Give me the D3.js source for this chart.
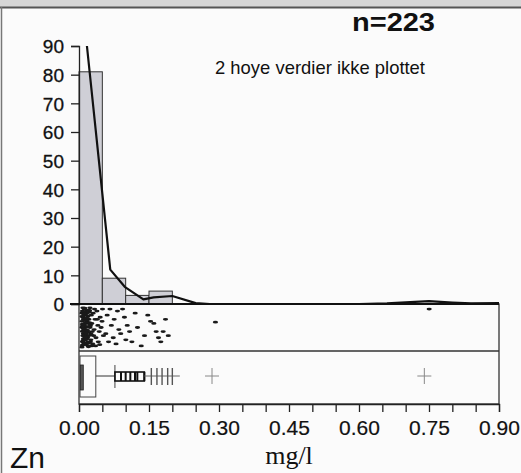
<!DOCTYPE html>
<html>
<head>
<meta charset="utf-8">
<script src="https://cdn.jsdelivr.net/npm/d3@7"></script>
<style>
  body { margin: 0; background: #fbfbfb; }
  svg { display: block; }
  text { font-family: "Liberation Sans", Arial, sans-serif; fill: #111; }
</style>
</head>
<body>
<svg id="chart" width="521" height="473"></svg>
<script>
// histogram bins (mg/l) and heights
var binStart = [0.00, 0.05, 0.10, 0.15];
var binEnd   = [0.05, 0.10, 0.15, 0.20];
var binValue = [81, 9, 3, 4.5];

// smoothed frequency curve
var curveX = [0.017, 0.067, 0.098, 0.138, 0.16, 0.20, 0.25, 0.28, 0.60, 0.66, 0.70, 0.75, 0.80, 0.84, 0.90];
var curveY = [90, 12, 6, 1.6, 2.3, 2.8, 0.3, 0, 0, 0.2, 0.6, 1.0, 0.5, 0.2, 0.3];

// strip plot: value and vertical jitter (0 = top, 1 = bottom)
var stripVal = [0.002,0.004,0.001,0.003,0.005,0.006,0.008,0.007,0.009,0.002,0.011,0.012,0.010,0.013,0.014,
  0.003,0.005,0.004,0.006,0.008,0.016,0.018,0.015,0.017,0.019,0.001,0.002,0.009,0.011,0.013,
  0.021,0.023,0.020,0.022,0.025,0.027,0.024,0.026,0.029,0.031,0.033,0.035,0.030,0.038,0.040,
  0.036,0.042,0.045,0.047,0.044,0.012,0.004,0.007,0.016,0.019,0.006,0.010,0.014,0.003,0.018,
  0.028,0.034,0.039,0.001,0.005,0.009,0.015,0.020,0.002,0.008,0.012,0.017,0.022,0.006,0.011,
  0.001,0.003,0.005,0.007,0.009,0.011,0.013,0.002,0.004,0.006,0.008,0.010,0.012,0.014,0.016,
  0.001,0.003,0.005,0.007,0.009,0.002,0.004,0.006,0.008,0.010,0.013,0.015,0.017,0.019,0.021,
  0.052,0.055,0.058,0.061,0.064,0.068,0.070,0.074,0.077,0.080,0.084,0.088,0.092,0.095,0.098,
  0.103,0.108,0.115,0.120,0.128,0.135,0.142,0.148,0.155,0.160,0.165,0.170,0.175,0.180,0.186,
  0.287,0.745];
var stripJit = [0.10,0.30,0.50,0.70,0.90,0.20,0.40,0.60,0.80,0.85,0.15,0.35,0.55,0.75,0.95,
  0.25,0.45,0.65,0.05,0.90,0.30,0.50,0.70,0.10,0.85,0.35,0.60,0.20,0.60,0.40,
  0.20,0.60,0.80,0.40,0.15,0.55,0.90,0.70,0.30,0.75,0.10,0.45,0.95,0.60,0.25,
  0.85,0.50,0.05,0.70,0.35,0.08,0.78,0.28,0.62,0.42,0.52,0.92,0.22,0.02,0.02,
  0.05,0.30,0.92,0.15,0.82,0.48,0.88,0.66,0.42,0.12,0.72,0.38,0.95,0.68,0.32,
  0.98,0.58,0.18,0.88,0.38,0.78,0.28,0.47,0.12,0.72,0.33,0.66,0.48,0.86,0.13,
  0.23,0.83,0.43,0.03,0.63,0.93,0.53,0.16,0.74,0.27,0.57,0.97,0.08,0.46,0.68,
  0.65,0.20,0.85,0.05,0.45,0.75,0.30,0.90,0.10,0.55,0.65,0.05,0.25,0.80,0.45,
  0.60,0.85,0.15,0.50,0.95,0.70,0.20,0.35,0.40,0.60,0.75,0.85,0.60,0.30,0.70,
  0.37,0.05];

// box plot summary
var boxQ1 = 0.0, boxMedian = 0.006, boxQ3 = 0.036, whiskerHi = 0.077;
var nearOut = [0.090, 0.100, 0.110, 0.120, 0.125, 0.140];
var midOut = [0.155, 0.167, 0.178, 0.190, 0.200];
var farOut = [0.285, 0.740];

var xTicks = [0, 0.15, 0.30, 0.45, 0.60, 0.75, 0.90];
var yTicks = [0, 10, 20, 30, 40, 50, 60, 70, 80, 90];

var svg = d3.select("#chart");
var x = d3.scaleLinear().domain([0, 0.9]).range([79, 499]);
var y = d3.scaleLinear().domain([0, 90]).range([304, 46]);

// frame
svg.append("rect").attr("x", 0).attr("y", 0).attr("width", 521).attr("height", 7).attr("fill", "#d6d6d6");
svg.append("line").attr("x1", 0).attr("x2", 521).attr("y1", 7.5).attr("y2", 7.5).attr("stroke", "#555").attr("stroke-width", 2);
svg.append("line").attr("x1", 1.5).attr("x2", 1.5).attr("y1", 7).attr("y2", 473).attr("stroke", "#777").attr("stroke-width", 1.5);

// histogram
svg.selectAll("rect.bar").data(binValue).enter().append("rect")
  .attr("class", "bar")
  .attr("x", function(d, i) { return x(binStart[i]); })
  .attr("width", function(d, i) { return x(binEnd[i]) - x(binStart[i]); })
  .attr("y", function(d) { return y(d); })
  .attr("height", function(d) { return y(0) - y(d); })
  .attr("fill", "#cfcfd6").attr("stroke", "#333").attr("stroke-width", 1);

var pts = curveX.map(function(v, i) { return [x(v), y(curveY[i])]; });
svg.append("path").attr("d", d3.line()(pts))
  .attr("fill", "none").attr("stroke", "#111").attr("stroke-width", 2.2).attr("stroke-linejoin", "round");

// y axis
var yAxis = svg.append("g").attr("transform", "translate(79,0)")
  .call(d3.axisLeft(y).tickValues(yTicks).tickSize(8).tickPadding(7).tickFormat(d3.format("d")));
yAxis.select(".domain").attr("stroke", "#222").attr("stroke-width", 1.3);
yAxis.selectAll(".tick line").attr("stroke", "#222").attr("stroke-width", 1.3);
yAxis.selectAll("text").attr("font-size", 19).attr("font-family", "Liberation Sans, Arial, sans-serif")
  .attr("fill", "#111").attr("stroke", "#111").attr("stroke-width", 0.3).attr("dy", "0.36em");

// lower panels
svg.append("rect").attr("x", 79).attr("y", 304).attr("width", 420).attr("height", 100)
  .attr("fill", "none").attr("stroke", "#333").attr("stroke-width", 1.3);
svg.append("line").attr("x1", 79).attr("x2", 499).attr("y1", 351).attr("y2", 351).attr("stroke", "#333").attr("stroke-width", 1.3);
svg.append("line").attr("x1", 70).attr("x2", 499).attr("y1", 304).attr("y2", 304).attr("stroke", "#111").attr("stroke-width", 2);

// strip plot
var sy = d3.scaleLinear().domain([0, 1]).range([307, 348]);
svg.selectAll("ellipse.dot").data(stripVal).enter().append("ellipse")
  .attr("class", "dot")
  .attr("cx", function(d) { return x(d) + 2.5; })
  .attr("cy", function(d, i) { return sy(stripJit[i]); })
  .attr("rx", 2.6).attr("ry", 1.4)
  .attr("fill", "#1a1a1a");

// box plot
var by = 376;
svg.append("rect").attr("x", x(boxQ1) + 1).attr("y", 356).attr("width", x(boxQ3) - x(boxQ1) - 1).attr("height", 41)
  .attr("fill", "none").attr("stroke", "#444").attr("stroke-width", 1);
svg.append("rect").attr("x", x(boxMedian) - 1.5).attr("y", 365).attr("width", 3).attr("height", 25)
  .attr("fill", "#555").attr("stroke", "#222").attr("stroke-width", 0.8);
svg.append("line").attr("x1", x(boxQ3)).attr("x2", x(whiskerHi)).attr("y1", by).attr("y2", by).attr("stroke", "#333").attr("stroke-width", 1);
svg.append("line").attr("x1", x(whiskerHi)).attr("x2", x(whiskerHi)).attr("y1", 365).attr("y2", 388).attr("stroke", "#444").attr("stroke-width", 1);
svg.append("rect").attr("x", x(whiskerHi)).attr("y", 372).attr("width", x(d3.max(nearOut)) - x(whiskerHi)).attr("height", 9)
  .attr("fill", "none").attr("stroke", "#111").attr("stroke-width", 1.6);
svg.selectAll("line.near").data(nearOut).enter().append("line")
  .attr("class", "near")
  .attr("x1", function(d) { return x(d); }).attr("x2", function(d) { return x(d); })
  .attr("y1", 372).attr("y2", 381).attr("stroke", "#111").attr("stroke-width", 2);
svg.append("line").attr("x1", x(d3.max(nearOut))).attr("x2", x(0.216)).attr("y1", by).attr("y2", by).attr("stroke", "#666").attr("stroke-width", 1);
svg.selectAll("line.mid").data(midOut).enter().append("line")
  .attr("class", "mid")
  .attr("x1", function(d) { return x(d); }).attr("x2", function(d) { return x(d); })
  .attr("y1", 368).attr("y2", 385).attr("stroke", "#555").attr("stroke-width", 1.4);
var plus = svg.selectAll("g.far").data(farOut).enter().append("g")
  .attr("class", "far")
  .attr("transform", function(d) { return "translate(" + x(d) + "," + by + ")"; });
plus.append("line").attr("x1", -7).attr("x2", 7).attr("y1", 0).attr("y2", 0).attr("stroke", "#888").attr("stroke-width", 1);
plus.append("line").attr("x1", 0).attr("x2", 0).attr("y1", -8).attr("y2", 8).attr("stroke", "#888").attr("stroke-width", 1);

// x axis
var xAxis = svg.append("g").attr("transform", "translate(0,404)")
  .call(d3.axisBottom(x).tickValues(d3.range(0, 0.901, 0.05)).tickSize(8).tickPadding(8)
    .tickFormat(function(d) {
      var m = xTicks.find(function(t) { return Math.abs(t - d) < 1e-6; });
      return m === undefined ? "" : d3.format(".2f")(m);
    }));
xAxis.select(".domain").attr("stroke", "#222").attr("stroke-width", 1.3);
xAxis.selectAll(".tick line").attr("stroke", "#222").attr("stroke-width", 1.3);
xAxis.selectAll("text").attr("font-size", 21).attr("font-family", "Liberation Sans, Arial, sans-serif")
  .attr("fill", "#111").attr("stroke", "#111").attr("stroke-width", 0.2);

// labels
svg.append("text").attr("x", 10).attr("y", 468).attr("font-size", 30).text("Zn");
svg.append("text").attr("x", 289).attr("y", 464).attr("text-anchor", "middle")
  .style("font-family", "Liberation Serif, Times New Roman, serif").attr("font-size", 26).text("mg/l");
svg.append("text").attr("x", 352).attr("y", 31).attr("font-size", 26).attr("font-weight", "bold")
  .attr("textLength", 83).attr("lengthAdjust", "spacingAndGlyphs").text("n=223");
svg.append("text").attr("x", 215).attr("y", 74).attr("font-size", 19)
  .attr("textLength", 210).attr("lengthAdjust", "spacingAndGlyphs").text("2 hoye verdier ikke plottet");
</script>
</body>
</html>
